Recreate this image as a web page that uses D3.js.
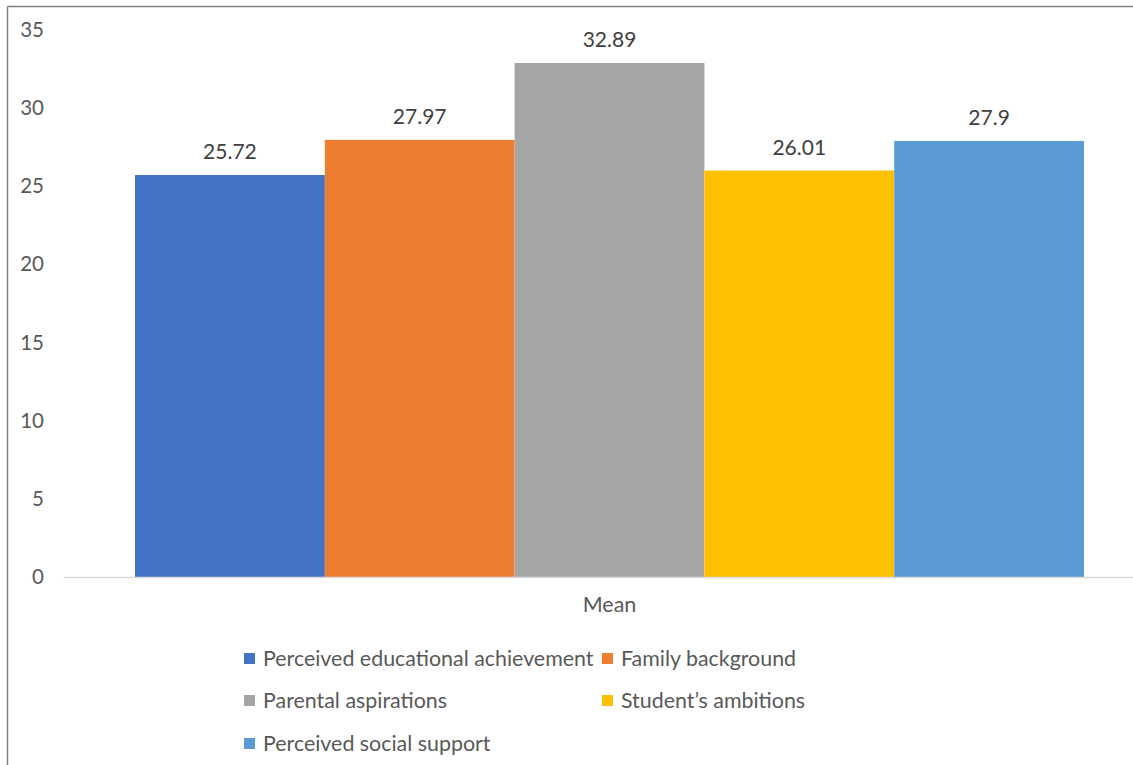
<!DOCTYPE html>
<html>
<head>
<meta charset="utf-8">
<script src="https://cdn.jsdelivr.net/npm/d3@7"></script>
<style>
  html, body { margin: 0; padding: 0; background: #fff; }
  svg { display: block; font-family: Lato, "Open Sans", sans-serif; }
</style>
</head>
<body>
<svg id="chart" width="1133" height="765"></svg>
<script>
// Mean scores per factor
const categories = ["Mean"];
const seriesNames = [
  "Perceived educational achievement",
  "Family background",
  "Parental aspirations",
  "Student\u2019s ambitions",
  "Perceived social support"
];
const seriesValues = [25.72, 27.97, 32.89, 26.01, 27.9];
const seriesColors = ["#4472c4", "#ed7d31", "#a5a5a5", "#ffc000", "#5b9bd5"];
const yTicks = [0, 5, 10, 15, 20, 25, 30, 35];

const svg = d3.select("#chart");
const W = 1133, H = 765;

// outer frame (left and top edges)
svg.append("line").attr("x1", 7.5).attr("y1", 6.5).attr("x2", W).attr("y2", 6.5)
  .attr("stroke", "#7f7f7f").attr("stroke-width", 1.5);
svg.append("line").attr("x1", 7.5).attr("y1", 6.5).attr("x2", 7.5).attr("y2", H)
  .attr("stroke", "#7f7f7f").attr("stroke-width", 1.5);

const plotLeft = 63, plotRight = 1156;
const y = d3.scaleLinear().domain([0, 35]).range([577, 30]);

const x0 = d3.scaleBand().domain(categories).range([plotLeft, plotRight]).paddingInner(0).paddingOuter(0.0759);
const x1 = d3.scaleBand().domain(seriesNames).range([0, x0.bandwidth()]).padding(0);

// y axis labels (no axis line)
const yAxis = d3.axisLeft(y).tickValues(yTicks).tickSize(0).tickPadding(0);
const gy = svg.append("g").attr("transform", "translate(44,0)").call(yAxis);
gy.select(".domain").remove();
gy.selectAll("text").attr("fill", "#595959").attr("font-size", 20.5)
  .attr("font-family", "Lato, sans-serif").attr("text-anchor", "end");

// bars
const group = svg.append("g").selectAll("g").data(categories).join("g")
  .attr("transform", d => `translate(${x0(d)},0)`);

group.selectAll("rect").data(seriesNames.map((n, i) => ({ n, v: seriesValues[i], c: seriesColors[i] })))
  .join("rect")
  .attr("x", d => x1(d.n))
  .attr("y", d => y(d.v))
  .attr("width", x1.bandwidth())
  .attr("height", d => y(0) - y(d.v))
  .attr("fill", d => d.c);

// value labels
group.selectAll("text.val").data(seriesNames.map((n, i) => ({ n, v: seriesValues[i] })))
  .join("text").attr("class", "val")
  .attr("x", d => x1(d.n) + x1.bandwidth() / 2)
  .attr("y", d => y(d.v) - 16)
  .attr("text-anchor", "middle")
  .attr("fill", "#404040")
  .attr("font-size", 21)
  .text(d => d.v);

// category axis baseline
const xAxis = d3.axisBottom(x0).tickSize(0).tickPadding(20);
const gx = svg.append("g").attr("transform", `translate(0,${y(0)})`).call(xAxis);
gx.select(".domain").attr("stroke", "#d9d9d9").attr("stroke-width", 1.3);
gx.selectAll("text").attr("fill", "#595959").attr("font-size", 21.5).attr("font-family", "Lato, sans-serif");

// legend
const legendPos = [
  [244, 658], [602, 658],
  [244, 700], [602, 700],
  [244, 743]
];
const legend = svg.append("g").selectAll("g").data(seriesNames).join("g")
  .attr("transform", (d, i) => `translate(${legendPos[i][0]},${legendPos[i][1]})`);
legend.append("rect").attr("x", 0).attr("y", -5).attr("width", 11).attr("height", 11)
  .attr("fill", (d, i) => seriesColors[i]);
legend.append("text").attr("x", 19).attr("y", 0).attr("dy", "0.35em")
  .attr("fill", "#595959").attr("font-size", 21.4)
  .text(d => d);
</script>
</body>
</html>
